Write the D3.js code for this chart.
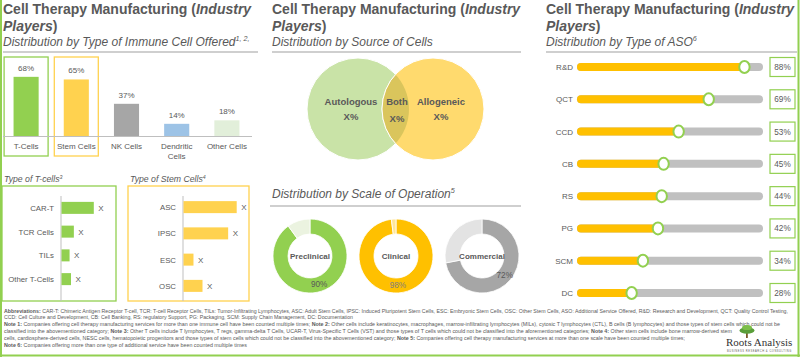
<!DOCTYPE html>
<html><head><meta charset="utf-8">
<script src="https://cdn.jsdelivr.net/npm/d3@7"></script>
<style>body{margin:0;background:#fff}svg{display:block;font-family:"Liberation Sans",Arial,sans-serif}</style>
</head><body><svg id="c" width="800" height="357"></svg>
<script>
// ---------- DATA ----------
const immuneCategories = ["T-Cells", "Stem Cells", "NK Cells", "Dendritic Cells", "Other Cells"];
const immuneValues = [68, 65, 37, 14, 18];
const tCellTypes = ["CAR-T", "TCR Cells", "TILs", "Other T-Cells"];
const tCellValues = [34, 13, 8.5, 10];
const tCellLabels = ["X", "X", "X", "X"];
const stemCellTypes = ["ASC", "IPSC", "ESC", "OSC"];
const stemCellValues = [56, 47, 10.5, 20];
const stemCellLabels = ["X", "X", "X", "X"];
const sourceLabels = ["Autologous", "Both", "Allogeneic"];
const sourceValueLabels = ["X%", "X%", "X%"];
const scaleCategories = ["Preclinical", "Clinical", "Commercial"];
const scaleValues = [90, 98, 72];
const asoCategories = ["R&D", "QCT", "CCD", "CB", "RS", "PG", "SCM", "DC"];
const asoValues = [88, 69, 53, 45, 44, 42, 34, 28];
const footnotes = [
  "Abbreviations: CAR-T: Chimeric Antigen Receptor T-cell, TCR: T-cell Receptor Cells, TILs: Tumor-Infiltrating Lymphocytes, ASC: Adult Stem Cells, IPSC: Induced Pluripotent Stem Cells, ESC: Embryonic Stem Cells, OSC: Other Stem Cells, ASO: Additional Service Offered, R&D: Research and Development, QCT: Quality Control Testing,",
  "CCD: Cell Culture and Development, CB: Cell Banking, RS: regulatory Support, PG: Packaging, SCM: Supply Chain Management, DC: Documentation",
  "Note 1: Companies offering cell therapy manufacturing services for more than one immune cell have been counted multiple times; Note 2: Other cells include keratinocytes, macrophages, marrow-infiltrating lymphocytes (MILs), cytosic T lymphocytes (CTL), B cells (B lymphocytes) and those types of stem cells which could not be",
  "classified into the abovementioned category; Note 3: Other T cells include T lymphocytes, T regs, gamma-delta T Cells, UCAR-T, Virus-Specific T Cells (VST) and those types of T cells which could not be classified into the aforementioned categories; Note 4: Other stem cells include bone marrow-derived stem",
  "cells, cardiosphere-derived cells, NESC cells, hematopoietic progenitors and those types of stem cells which could not be classified into the abovementioned category; Note 5: Companies offering cell therapy manufacturing services at more than one scale have been counted multiple times;",
  "Note 6: Companies offering more than one type of additional service have been counted multiple times"
];
// rendered line lengths of the footnotes (layout)
const footnoteWidths = [784, 349, 776, 728, 681, 243];

// ---------- STYLE ----------
const TXT = "#595959", GREEN = "#92d050", YEL = "#ffd24f", ORANGE = "#ffc000", GRID = "#bfbfbf";
const svg = d3.select("#c");

// frame
svg.append("line").attr("x1", 1).attr("x2", 1).attr("y1", 0).attr("y2", 357).attr("stroke", GREEN).attr("stroke-width", 2);
svg.append("line").attr("x1", 798.5).attr("x2", 798.5).attr("y1", 0).attr("y2", 357).attr("stroke", GREEN).attr("stroke-width", 2);
svg.append("line").attr("x1", 0).attr("x2", 800).attr("y1", 355.5).attr("y2", 355.5).attr("stroke", GREEN).attr("stroke-width", 2);

function titleBlock(x, sepX2, subtitle, sup) {
  const g = svg.append("g");
  const t1 = g.append("text").attr("x", x).attr("y", 14).attr("font-size", 14).attr("font-weight", "bold").attr("fill", TXT);
  t1.append("tspan").text("Cell Therapy Manufacturing (");
  t1.append("tspan").attr("font-style", "italic").text("Industry");
  const t2 = g.append("text").attr("x", x).attr("y", 31).attr("font-size", 14).attr("font-weight", "bold").attr("fill", TXT);
  t2.append("tspan").attr("font-style", "italic").text("Players");
  t2.append("tspan").text(")");
  subTitle(x, 46, subtitle, sup);
  g.append("line").attr("x1", x).attr("x2", sepX2).attr("y1", 52).attr("y2", 52).attr("stroke", GRID).attr("stroke-width", 1.5);
}
function subTitle(x, y, s, sup, size) {
  const t = svg.append("text").attr("x", x).attr("y", y).attr("font-size", size || 12).attr("font-style", "italic").attr("fill", TXT);
  t.append("tspan").text(s);
  if (sup) t.append("tspan").attr("font-size", (size || 12) * 0.6).attr("dy", -(size || 12) * 0.4).text(sup);
  return t;
}

// ---------- LEFT PANEL ----------
titleBlock(3, 258, "Distribution by Type of Immune Cell Offered", "1, 2,");
const immuneColors = [GREEN, YEL, "#a6a6a6", "#9dc3e6", "#e2efda"];
const xb = d3.scaleBand().domain(immuneCategories).range([1, 252]).paddingInner(0.5).paddingOuter(0.25);
const yb = d3.scaleLinear().domain([0, 100]).range([136, 49]);
[["T-Cells", GREEN], ["Stem Cells", YEL]].forEach(([c, col]) => {
  svg.append("rect").attr("x", xb(c) + xb.bandwidth() / 2 - 22).attr("y", 57).attr("width", 44).attr("height", 99)
    .attr("fill", "none").attr("stroke", col).attr("stroke-width", 1.3);
});
svg.append("g").selectAll("rect").data(immuneValues).join("rect")
  .attr("x", (d, i) => xb(immuneCategories[i])).attr("width", xb.bandwidth())
  .attr("y", d => yb(d)).attr("height", d => yb(0) - yb(d))
  .attr("fill", (d, i) => immuneColors[i]);
svg.append("line").attr("x1", 3).attr("x2", 252).attr("y1", 136.5).attr("y2", 136.5).attr("stroke", GRID);
svg.append("g").selectAll("text").data(immuneValues).join("text")
  .attr("x", (d, i) => xb(immuneCategories[i]) + xb.bandwidth() / 2).attr("y", d => yb(d) - 6)
  .attr("text-anchor", "middle").attr("font-size", 8).attr("fill", TXT).text(d => d + "%");
immuneCategories.forEach(c => {
  const t = svg.append("text").attr("x", xb(c) + xb.bandwidth() / 2).attr("y", 149).attr("text-anchor", "middle")
    .attr("font-size", 8).attr("fill", TXT);
  const lines = c.length > 12 ? c.split(" ") : [c];
  lines.forEach((w, i) => t.append("tspan").attr("x", xb(c) + xb.bandwidth() / 2).attr("dy", i ? 9.5 : 0).text(w));
});

function smallBars(boxX, boxW, col, title, sup, cats, vals, labs, axisX, rangeY) {
  svg.append("rect").attr("x", boxX).attr("y", 186).attr("width", boxW).attr("height", 115)
    .attr("fill", "none").attr("stroke", col).attr("stroke-width", 1.3);
  subTitle(boxX + 2, 182, title, sup, 8.7);
  const y = d3.scaleBand().domain(cats).range(rangeY).paddingInner(0.5).paddingOuter(0.25);
  const x = d3.scaleLinear().domain([0, 100]).range([axisX, axisX + 95]);
  svg.append("line").attr("x1", axisX).attr("x2", axisX).attr("y1", 196).attr("y2", 301).attr("stroke", GRID);
  const g = svg.append("g");
  g.selectAll("rect").data(vals).join("rect")
    .attr("x", axisX + 0.5).attr("y", (d, i) => y(cats[i]) + y.bandwidth() / 2 - 6)
    .attr("height", 12).attr("width", d => x(d) - axisX).attr("fill", col);
  g.selectAll(".cl").data(cats).join("text").attr("class", "cl")
    .attr("x", axisX - 7).attr("y", d => y(d) + y.bandwidth() / 2 + 3).attr("text-anchor", "end")
    .attr("font-size", 7.8).attr("fill", TXT).text(d => d);
  g.selectAll(".vl").data(vals).join("text").attr("class", "vl")
    .attr("x", d => x(d) + 5).attr("y", (d, i) => y(cats[i]) + y.bandwidth() / 2 + 3)
    .attr("font-size", 8).attr("fill", TXT).text((d, i) => labs[i]);
}
smallBars(2, 114, GREEN, "Type of T-cells", "3", tCellTypes, tCellValues, tCellLabels, 61, [196, 291]);
smallBars(128, 121, YEL, "Type of Stem Cells", "4", stemCellTypes, stemCellValues, stemCellLabels, 183, [194, 299]);

// ---------- MIDDLE PANEL ----------
titleBlock(272, 521, "Distribution by Source of Cells");
const venn = [{ cx: 358, fill: "#c9e3a7" }, { cx: 433, fill: "#ffda6e" }];
const vy = 109, vr = 51;
const defs = svg.append("defs");
defs.append("clipPath").attr("id", "leftC").append("circle").attr("cx", venn[0].cx).attr("cy", vy).attr("r", vr);
venn.forEach(v => svg.append("circle").attr("cx", v.cx).attr("cy", vy).attr("r", vr).attr("fill", v.fill).attr("stroke", "#fff").attr("stroke-width", 1));
svg.append("circle").attr("cx", venn[1].cx).attr("cy", vy).attr("r", vr).attr("clip-path", "url(#leftC)").attr("fill", "#dac55c").attr("stroke", "#fff");
const vennLabelX = [351, 397, 441];
sourceLabels.forEach((s, i) => {
  svg.append("text").attr("x", vennLabelX[i]).attr("y", 105).attr("text-anchor", "middle").attr("font-size", 9.5)
    .attr("font-weight", "bold").attr("fill", TXT).text(s);
  svg.append("text").attr("x", vennLabelX[i]).attr("y", i === 1 ? 122 : 120).attr("text-anchor", "middle").attr("font-size", 9.5)
    .attr("font-weight", "bold").attr("fill", TXT).text(sourceValueLabels[i]);
});

subTitle(272, 198, "Distribution by Scale of Operation", "5");
svg.append("line").attr("x1", 270).attr("x2", 521).attr("y1", 206).attr("y2", 206).attr("stroke", GRID).attr("stroke-width", 1.5);
const donutCX = d3.scalePoint().domain(scaleCategories).range([310, 482]);
const donutColors = [[GREEN, "#ebf3e0"], [ORANGE, "#ffe699"], ["#a6a6a6", "#e3e3e3"]];
const pie = d3.pie().sort(null);
const arc = d3.arc().innerRadius(22).outerRadius(37);
const labelArc = d3.arc().innerRadius(29.5).outerRadius(29.5);
scaleCategories.forEach((c, i) => {
  const g = svg.append("g").attr("transform", `translate(${donutCX(c)},256)`);
  const arcs = pie([scaleValues[i], 100 - scaleValues[i]]);
  g.selectAll("path").data(arcs).join("path").attr("d", arc)
    .attr("fill", (d, j) => donutColors[i][j]).attr("stroke", "#fff").attr("stroke-width", 0.8);
  g.append("text").attr("text-anchor", "middle").attr("y", 3).attr("font-size", 8).attr("font-weight", "bold").attr("fill", TXT).text(c);
  const p = labelArc.centroid(arcs[0]);
  g.append("text").attr("x", p[0]).attr("y", p[1] + 3).attr("text-anchor", "middle").attr("font-size", 8.2)
    .attr("fill", i === 1 ? "#7f7f7f" : "#595959").text(scaleValues[i] + "%");
});

// ---------- RIGHT PANEL ----------
titleBlock(546, 797, "Distribution by Type of ASO", "6");
const ys = d3.scalePoint().domain(asoCategories).range([67, 293]);
const xs = d3.scaleLinear().domain([0, 100]).range([579, 767]);
const rows = svg.append("g").selectAll("g").data(asoCategories).join("g").attr("transform", d => `translate(0,${ys(d)})`);
rows.append("text").attr("x", 573).attr("y", 3).attr("text-anchor", "end").attr("font-size", 8).attr("fill", TXT).text(d => d);
rows.append("rect").attr("x", 577).attr("y", -4).attr("width", 186).attr("height", 8).attr("rx", 4).attr("fill", "#c0c0c0");
rows.append("rect").attr("x", 577).attr("y", -4).attr("width", (d, i) => xs(asoValues[i]) - 577).attr("height", 8).attr("rx", 4).attr("fill", ORANGE);
rows.append("ellipse").attr("cx", (d, i) => xs(asoValues[i])).attr("cy", 0).attr("rx", 5.2).attr("ry", 6)
  .attr("fill", "#fff").attr("stroke", GREEN).attr("stroke-width", 2);
rows.append("rect").attr("x", 770).attr("y", -9.5).attr("width", 25).attr("height", 19).attr("fill", "#fff").attr("stroke", GREEN).attr("stroke-width", 1.2);
rows.append("text").attr("x", 782.5).attr("y", 3).attr("text-anchor", "middle").attr("font-size", 8.2).attr("fill", TXT).text((d, i) => asoValues[i] + "%");

// ---------- FOOTNOTES ----------
footnotes.forEach((line, i) => {
  const t = svg.append("text").attr("x", 4).attr("y", 312.5 + i * 6.9).attr("font-size", 5.2).attr("fill", TXT)
    .attr("textLength", footnoteWidths[i]).attr("lengthAdjust", "spacingAndGlyphs");
  line.split(/(Abbreviations:|Note \d:)/).filter(s => s).forEach(s => {
    t.append("tspan").attr("font-weight", /^(Abbreviations:|Note \d:)$/.test(s) ? "bold" : null).text(s);
  });
});

// ---------- LOGO ----------
const logo = svg.append("g");
logo.append("rect").attr("x", 746).attr("y", 331).attr("width", 1.8).attr("height", 7).attr("fill", "#7a5a2a");
logo.append("ellipse").attr("cx", 747).attr("cy", 330.5).attr("rx", 7.5).attr("ry", 3.2).attr("fill", "#5a9e3a");
logo.append("ellipse").attr("cx", 747).attr("cy", 327.5).attr("rx", 5).attr("ry", 2.6).attr("fill", "#7cbf4a");
logo.append("text").attr("x", 726).attr("y", 346).attr("font-family", "'Liberation Serif',serif").attr("font-size", 11).attr("fill", "#333").text("Roots Analysis");
logo.append("text").attr("x", 727).attr("y", 351.5).attr("font-size", 2.6).attr("letter-spacing", 0.55).attr("fill", "#555").text("BUSINESS RESEARCH & CONSULTING");
</script></body></html>
